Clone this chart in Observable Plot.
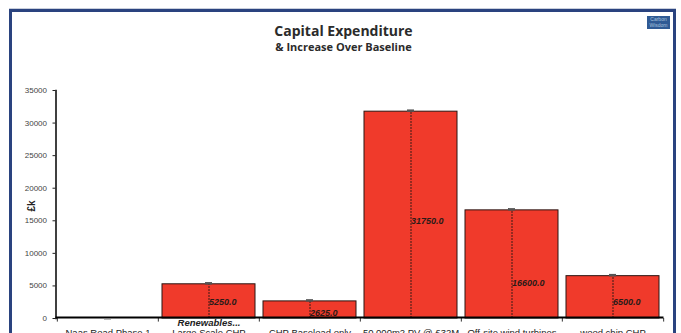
<!DOCTYPE html>
<html>
<head>
<meta charset="utf-8">
<script src="https://cdn.jsdelivr.net/npm/d3@7"></script>
<script src="https://cdn.jsdelivr.net/npm/@observablehq/plot@0.6"></script>
<style>
  html, body { margin: 0; padding: 0; background: #fff; overflow: hidden; }
  #page { position: relative; width: 681px; height: 333px; overflow: hidden; }
  #frame { position: absolute; left: 9px; top: 9px; width: 661px; height: 340px;
           border: 3px solid #2a437f; box-shadow: 0 -1px 0 #c9cfdc; }
  #title, #subtitle { position: absolute; left: 0; width: 681px; text-align: center;
           font-family: "Open Sans", sans-serif; color: #2b2b2b; font-weight: bold; margin: 0; }
  #title { top: 22px; font-size: 14px; line-height: 18px; transform: translateX(3px); }
  #subtitle { top: 40px; font-size: 11px; line-height: 14px; transform: translateX(3px); }
  #badge { position: absolute; left: 647px; top: 16px; width: 23px; height: 13px; background: #2f5a94;
           color: #a9c3de; font: 5px/6px "Liberation Sans", sans-serif; text-align: center; overflow: hidden; }
  #chart { position: absolute; left: 0; top: 0; }
  #chart svg { display: block; }
</style>
</head>
<body>
<div id="page">
  <div id="frame"></div>
  <h1 id="title">Capital Expenditure</h1>
  <h2 id="subtitle">&amp; Increase Over Baseline</h2>
  <div id="badge">Carbon Wisdom</div>
  <div id="chart"></div>
</div>
<script>
// Capital cost of each scheme, in thousands of pounds
const schemes = ["Naas Road Phase 1", "Large Scale CHP", "CHP Baseload only", "50,000m2 PV @ £32M", "Off-site wind turbines", "wood chip CHP"];
const capex = [0, 5250, 2625, 31750, 16600, 6500];
// Height on the value axis at which each value label sits
const labelLevel = [null, 2450, 760, 14900, 5400, 2450];
const yTicks = [0, 5000, 10000, 15000, 20000, 25000, 30000, 35000];

const rows = schemes.map((scheme, i) => ({scheme, value: capex[i], level: labelLevel[i]}));
const labelled = rows.filter(d => d.value > 0);
const empty = rows.filter(d => d.value === 0);
const red = "#f03a2b";
const sans = "Liberation Sans, Arial, sans-serif";
const halfStep = 608 / 6 / 2;

const chart = Plot.plot({
  width: 681,
  height: 333,
  marginLeft: 55.5,
  marginRight: 17.5,
  marginTop: 90,
  marginBottom: 15,
  style: {background: "transparent", overflow: "hidden"},
  x: {domain: schemes, paddingInner: 0.08, paddingOuter: 0.04, label: null},
  y: {domain: [0, 35000], label: null},
  marks: [
    // Value axis
    Plot.frame({anchor: "left", stroke: "#000", strokeWidth: 1.5}),
    Plot.axisY({ticks: yTicks, tickFormat: d => String(d), tickSize: 3, tickPadding: 6, stroke: "#222",
      fontSize: 8, fontFamily: sans, fill: "#444", label: null}),
    Plot.text(["£k"], {frameAnchor: "left", dx: -24, dy: 7, rotate: -90, fontSize: 10, fontWeight: "bold",
      fontFamily: sans, fill: "#222"}),
    // Bars
    Plot.barY(labelled, {x: "scheme", y: "value", fill: red, stroke: "#2a1512", strokeWidth: 1}),
    // Dashed error stems running from each bar top to the baseline, with a small cap
    Plot.ruleX(labelled, {x: "scheme", y1: 0, y2: "value", stroke: "#3a1a16", strokeWidth: 1, strokeDasharray: "2,1"}),
    Plot.tickY(labelled, {x: "scheme", y: "value", stroke: "#555", strokeWidth: 2.5, dy: -1,
      insetLeft: 43, insetRight: 43}),
    Plot.tickY(empty, {x: "scheme", y: "value", stroke: "#bbb", strokeWidth: 1, dy: 1,
      insetLeft: 43, insetRight: 43}),
    // Category axis: ticks fall on the boundaries between schemes
    Plot.ruleX(schemes, {x: d => d, y1: 0, y2: -550, stroke: "#333", dx: -halfStep}),
    Plot.ruleX(schemes.slice(-1), {x: d => d, y1: 0, y2: -550, stroke: "#333", dx: halfStep}),
    Plot.ruleY([0], {stroke: "#000", strokeWidth: 2, dy: -1}),
    Plot.axisX({tickSize: 0, tickPadding: 11, fontSize: 9.5, fontFamily: sans, fill: "#222", label: null}),
    // Value labels
    Plot.text(labelled, {x: "scheme", y: "level", text: d => d.value.toFixed(1), textAnchor: "start", dx: 0,
      fontSize: 9, fontWeight: "bold", fontStyle: "italic", fontFamily: sans, fill: "#2a1a18"}),
    // Group heading under the axis
    Plot.text(["Renewables..."], {x: () => schemes[1], y: () => 0, dy: 1, lineAnchor: "top",
      fontSize: 9.5, fontWeight: "bold", fontStyle: "italic", fontFamily: sans, fill: "#222"})
  ]
});
document.getElementById("chart").append(chart);
</script>
</body>
</html>
